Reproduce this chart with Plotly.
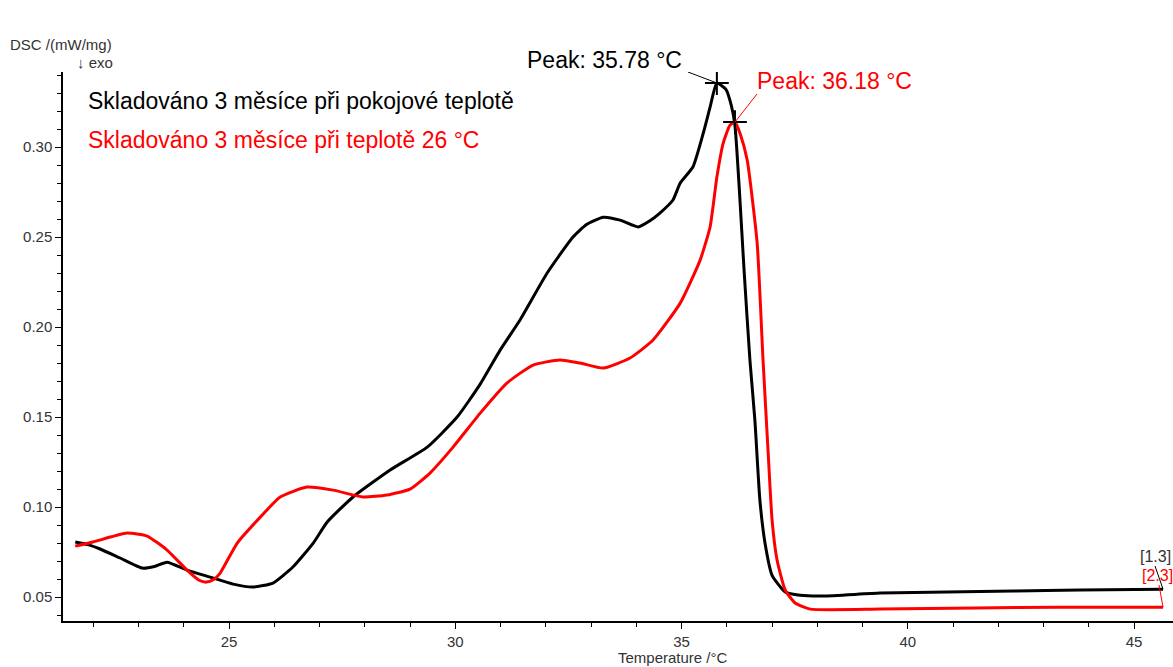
import plotly.graph_objects as go

# ---- data ----
black_T = [21.6, 21.9, 22.15, 22.59, 23.08, 23.35, 23.63, 24.07, 24.58, 25.09, 25.53, 25.97,
           26.41, 26.86, 27.17, 27.74, 28.56, 29.38, 30.04, 30.55, 30.99, 31.43, 32.03, 32.6,
           32.9, 33.27, 33.64, 34.04, 34.3, 34.52, 34.81, 34.97, 35.25, 35.48, 35.63, 35.78,
           35.98, 36.1, 36.18, 36.28, 36.38, 36.51, 36.62, 36.73, 36.85, 37.0, 37.29, 37.62,
           38.13, 39.39, 40.87, 42.33, 43.8, 45.64]
black_v = [0.0806, 0.079, 0.0767, 0.0717, 0.0661, 0.067, 0.0694, 0.065, 0.0611, 0.0572, 0.0556, 0.0578,
           0.0667, 0.080, 0.0917, 0.1056, 0.1206, 0.1333, 0.150, 0.1683, 0.1872, 0.2039, 0.230, 0.250,
           0.257, 0.261, 0.2594, 0.2556, 0.259, 0.2633, 0.2706, 0.280, 0.2889, 0.3078, 0.3222, 0.3356,
           0.332, 0.323, 0.312, 0.275, 0.232, 0.1817, 0.1483, 0.104, 0.079, 0.062, 0.0528, 0.051,
           0.0506, 0.0522, 0.0528, 0.0533, 0.0539, 0.0544]

red_T = [21.6, 21.99, 22.4, 22.75, 23.19, 23.63, 24.07, 24.35, 24.5, 24.65, 24.8, 25.18, 25.69, 26.13,
         26.72, 27.3, 27.96, 28.49, 29.0, 29.44, 29.95, 30.55, 31.14, 31.72, 32.31, 32.76, 33.27,
         33.86, 34.37, 34.97, 35.41, 35.63, 35.78, 35.92, 36.07, 36.18, 36.3, 36.45, 36.67, 36.8,
         36.91, 37.0, 37.11, 37.29, 37.51, 37.84, 39.39, 41.5, 43.3, 45.64]
red_v = [0.0783, 0.0806, 0.0835, 0.0856, 0.0839, 0.0761, 0.065, 0.0592, 0.0583, 0.0596, 0.0632, 0.080, 0.0944, 0.1056,
         0.1111, 0.1094, 0.1056, 0.1067, 0.110, 0.1189, 0.1333, 0.1522, 0.1689, 0.1789, 0.1817, 0.180, 0.1772,
         0.1828, 0.1928, 0.2133, 0.2372, 0.2556, 0.2833, 0.3022, 0.3122, 0.3139, 0.307, 0.2928, 0.2467, 0.1817,
         0.1317, 0.0928, 0.0706, 0.0539, 0.0467, 0.0433, 0.0433, 0.0439, 0.0444, 0.0444]

series_names = ["Skladováno 3 měsíce při pokojové teplotě", "Skladováno 3 měsíce při teplotě 26 °C"]
peak_T = [35.78, 36.18]
peak_v = [0.3356, 0.3139]
peak_labels = ["Peak: 35.78 °C", "Peak: 36.18 °C"]
end_labels = ["[1.3]", "[2.3]"]
x_ticks = [25, 30, 35, 40, 45]
y_ticks = [0.05, 0.10, 0.15, 0.20, 0.25, 0.30]

FONT = "Arial, Liberation Sans, sans-serif"
W, H = 1173, 667
L, R, T, B = 63, 0, 72, 46
XR = [21.33, 45.86]
YR = [0.0367, 0.3417]


def px_x(px):
    return (px - L) / (W - L - R)


def px_y(py):
    return (H - B - py) / (H - T - B)


def dx(px):  # pixel -> data x
    return XR[0] + (px - L) / (W - L - R) * (XR[1] - XR[0])


def dy(py):  # pixel -> data y
    return YR[0] + (H - B - py) / (H - T - B) * (YR[1] - YR[0])


fig = go.Figure()
colors = ["#000000", "#ff0000"]
for xs, ys, c, n in [(black_T, black_v, colors[0], series_names[0]),
                     (red_T, red_v, colors[1], series_names[1])]:
    fig.add_trace(go.Scatter(x=xs, y=ys, mode="lines", name=n,
                             line=dict(color=c, width=3, shape="spline", smoothing=0.5),
                             showlegend=False, hoverinfo="x+y"))

# peak markers
for i in range(2):
    fig.add_trace(go.Scatter(x=[peak_T[i]], y=[peak_v[i]], mode="markers", showlegend=False,
                             marker=dict(symbol="cross-thin", size=17,
                                         line=dict(color="#000000", width=2))))

shapes = [
    dict(type="line", xref="x", yref="y", x0=dx(688), y0=dy(72), x1=peak_T[0], y1=peak_v[0],
         line=dict(color="#000000", width=1)),
    dict(type="line", xref="x", yref="y", x0=dx(757), y0=dy(94), x1=peak_T[1], y1=peak_v[1],
         line=dict(color="#ff0000", width=1)),
    dict(type="line", xref="x", yref="y", x0=dx(1155), y0=dy(566), x1=black_T[-1], y1=black_v[-1],
         line=dict(color="#000000", width=1)),
    dict(type="line", xref="x", yref="y", x0=dx(1159), y0=dy(585), x1=red_T[-1], y1=red_v[-1],
         line=dict(color="#ff0000", width=1)),
]

ann = []


def txt(text, px, py, color, size, xanchor="left"):
    ann.append(dict(text=text, xref="paper", yref="paper", x=px_x(px), y=px_y(py),
                    xanchor=xanchor, yanchor="middle", showarrow=False,
                    font=dict(family=FONT, size=size, color=color)))


txt(series_names[0], 86, 101, "#000000", 23)
txt(series_names[1], 86, 140, "#ff0000", 23)
txt(peak_labels[0], 525, 60, "#000000", 23)
txt(peak_labels[1], 755, 81, "#ff0000", 23)
txt("DSC /(mW/mg)", 8, 45, "#333333", 15)
txt("↓ exo", 75, 63, "#333333", 15)
txt("Temperature /°C", 673, 657, "#333333", 15, xanchor="center")
txt(end_labels[0], 1155, 556, "#333333", 16, xanchor="center")
txt(end_labels[1], 1157, 575, "#ff0000", 16, xanchor="center")

axis_common = dict(showline=True, linecolor="#000000", linewidth=1.5, ticks="outside",
                   ticklen=6, tickwidth=1, tickcolor="#000000", showgrid=False, zeroline=False,
                   mirror=False, tickfont=dict(family=FONT, size=15, color="#333333"))

fig.update_layout(
    width=W, height=H,
    margin=dict(l=L, r=R, t=T, b=B, pad=0),
    paper_bgcolor="white", plot_bgcolor="white",
    xaxis=dict(range=XR, tickvals=x_ticks, ticktext=[str(v) for v in x_ticks],
               minor=dict(dtick=1, tick0=25, ticks="outside", ticklen=4, tickcolor="#000000"),
               **axis_common),
    yaxis=dict(range=YR, tickvals=y_ticks, ticktext=[f"{v:.2f}" for v in y_ticks],
               minor=dict(dtick=0.01, tick0=0.05, ticks="outside", ticklen=4, tickcolor="#000000"),
               **axis_common),
    shapes=shapes,
    annotations=ann,
    showlegend=False,
)

fig.write_html("out.html")
